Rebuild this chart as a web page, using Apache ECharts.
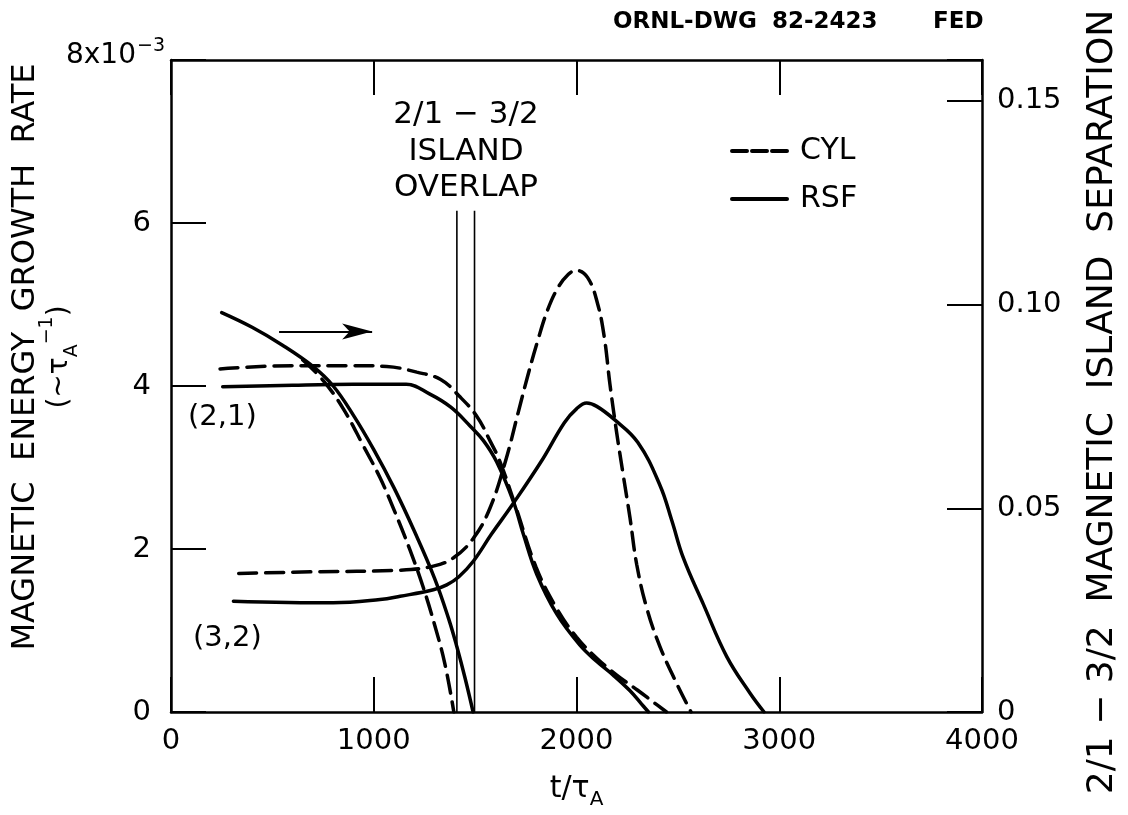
<!DOCTYPE html>
<html>
<head>
<meta charset="utf-8">
<title>ORNL-DWG 82-2423</title>
<script src="https://cdn.jsdelivr.net/npm/echarts/dist/echarts.min.js"></script>
<style>
html, body { margin: 0; padding: 0; background: #fff; }
#chart { width: 1128px; height: 815px; }
</style>
</head>
<body>
<div id="chart"></div>
<script>
var FONT = 'DejaVu Sans';

// 2/1 - 3/2 island separation (right axis)
var sepRsfT = [250, 400, 550, 700, 800, 900, 1000, 1100, 1200, 1300, 1370, 1410, 1450, 1490];
var sepRsf  = [0.098, 0.0944, 0.090, 0.0848, 0.080, 0.0728, 0.0644, 0.055, 0.0444, 0.0328, 0.0228, 0.016, 0.0084, 0];
var sepCylT = [650, 750, 850, 950, 1030, 1100, 1180, 1244, 1300, 1350, 1395];
var sepCyl  = [0.0864, 0.0814, 0.0744, 0.0652, 0.0576, 0.0496, 0.0396, 0.0306, 0.0214, 0.012, 0];

// (2,1) growth rate, x10^-3 (left axis)
var g21RsfT = [255, 600, 900, 1160, 1277, 1380, 1475, 1541, 1606, 1689, 1738, 1804, 1903, 2017, 2100, 2182, 2264, 2320, 2355];
var g21Rsf  = [3.99, 4.01, 4.02, 4.02, 3.90, 3.74, 3.51, 3.33, 3.07, 2.58, 2.18, 1.69, 1.20, 0.82, 0.62, 0.45, 0.26, 0.10, 0];
var g21CylT = [242, 600, 900, 1064, 1212, 1330, 1420, 1508, 1573, 1623, 1700, 1800, 1900, 2000, 2100, 2200, 2300, 2380, 2444];
var g21Cyl  = [4.21, 4.25, 4.25, 4.24, 4.17, 4.08, 3.88, 3.63, 3.33, 3.07, 2.52, 1.78, 1.28, 0.92, 0.66, 0.45, 0.27, 0.12, 0];

// (3,2) growth rate, x10^-3 (left axis)
var g32CylT = [334, 700, 1130, 1294, 1392, 1491, 1573, 1650, 1713, 1759, 1808, 1857, 1907, 1960, 1998, 2055, 2104, 2137, 2165, 2198, 2231, 2264, 2297, 2346, 2412, 2494, 2565];
var g32Cyl  = [1.70, 1.72, 1.74, 1.79, 1.89, 2.13, 2.50, 3.08, 3.68, 4.12, 4.55, 4.93, 5.20, 5.37, 5.42, 5.33, 5.01, 4.60, 4.02, 3.43, 2.90, 2.38, 1.81, 1.28, 0.80, 0.35, 0];
var g32RsfT = [308, 800, 1031, 1130, 1294, 1360, 1420, 1491, 1580, 1680, 1825, 1940, 2000, 2050, 2100, 2186, 2302, 2412, 2470, 2527, 2626, 2741, 2856, 2925];
var g32Rsf  = [1.36, 1.34, 1.38, 1.42, 1.50, 1.56, 1.66, 1.85, 2.18, 2.53, 3.07, 3.55, 3.72, 3.79, 3.75, 3.59, 3.31, 2.78, 2.35, 1.89, 1.32, 0.68, 0.23, 0];

// island overlap window and the arrow pointing to the right axis
var overlapT = [1410, 1497];
var overlapTop = 6.15;
var arrowT = [533, 992];
var arrowY = 4.67;

var xTicks = [0, 1000, 2000, 3000, 4000];

function pairs(xs, ys) {
  return xs.map(function (x, i) { return [x, ys[i]]; });
}

var dash = [18, 9];

function curve(name, xs, ys, dashed, yIdx) {
  return {
    name: name,
    type: 'line',
    yAxisIndex: yIdx,
    data: pairs(xs, ys),
    smooth: 0.4,
    symbol: 'none',
    silent: true,
    color: '#000',
    lineStyle: { color: '#000', width: 3.5, type: dashed ? dash : 'solid', cap: 'round' }
  };
}

function vline(t) {
  return {
    name: 'overlap',
    type: 'line',
    data: [[t, 0], [t, overlapTop]],
    symbol: 'none',
    silent: true,
    color: '#000',
    lineStyle: { color: '#000', width: 1.6 }
  };
}

var axisLineStyle = { onZero: false, lineStyle: { color: '#000', width: 2.5 } };
var tickStyle = { show: true, inside: true, length: 35, lineStyle: { color: '#000', width: 2 } };

var chart = echarts.init(document.getElementById('chart'));

var option = {
  animation: false,
  backgroundColor: '#fff',
  textStyle: { fontFamily: FONT, color: '#000' },
  grid: { left: 171, right: 146, top: 60, bottom: 96 },
  legend: {
    data: [
      { name: 'CYL', lineStyle: { type: [15, 5], width: 4, color: '#000' } },
      { name: 'RSF', lineStyle: { type: 'solid', width: 4, color: '#000' } }
    ],
    orient: 'vertical',
    left: 725,
    top: 131,
    itemWidth: 55,
    itemHeight: 30,
    itemGap: 18,
    selectedMode: false,
    itemStyle: { opacity: 0 },
    textStyle: { fontSize: 30, color: '#000', fontFamily: FONT, padding: [0, 0, 0, 8] }
  },
  xAxis: [{
    type: 'value',
    min: 0, max: 4000, interval: 1000,
    position: 'bottom',
    splitLine: { show: false },
    axisLine: axisLineStyle,
    axisTick: tickStyle,
    axisLabel: {
      fontSize: 29, color: '#000', margin: 15, fontFamily: FONT,
      formatter: function (v) { return xTicks.indexOf(v) >= 0 ? String(v) : ''; }
    },
    name: '{m|t/τ}{s|A}',
    nameLocation: 'middle',
    nameGap: 62,
    nameTextStyle: {
      rich: {
        m: { fontSize: 30, fontFamily: FONT, color: '#000', verticalAlign: 'top' },
        s: { fontSize: 20, fontFamily: FONT, color: '#000', verticalAlign: 'top', padding: [16, 0, 0, 0] }
      }
    }
  }, {
    type: 'value',
    min: 0, max: 4000, interval: 1000,
    position: 'top',
    splitLine: { show: false },
    axisLine: axisLineStyle,
    axisTick: tickStyle,
    axisLabel: { show: false }
  }],
  yAxis: [{
    type: 'value',
    min: 0, max: 8, interval: 2,
    position: 'left',
    splitLine: { show: false },
    axisLine: axisLineStyle,
    axisTick: tickStyle,
    axisLabel: {
      fontSize: 29, color: '#000', margin: 20, fontFamily: FONT,
      formatter: function (v) { return v === 8 ? '' : String(v); }
    }
  }, {
    type: 'value',
    min: 0, max: 0.16, interval: 0.05,
    position: 'right',
    splitLine: { show: false },
    axisLine: axisLineStyle,
    axisTick: tickStyle,
    axisLabel: {
      fontSize: 29, color: '#000', margin: 15, fontFamily: FONT,
      formatter: function (v) {
        if (v === 0) return '0';
        if (Math.abs(v - 0.16) < 1e-9) return '';
        return v.toFixed(2);
      }
    }
  }],
  graphic: [
    { type: 'text', x: 757, y: 22, style: { text: 'ORNL-DWG', font: 'bold 23px ' + FONT, fill: '#000', align: 'right', verticalAlign: 'middle' } },
    { type: 'text', x: 772, y: 22, style: { text: '82-2423', font: 'bold 23px ' + FONT, fill: '#000', align: 'left', verticalAlign: 'middle' } },
    { type: 'text', x: 933, y: 22, style: { text: 'FED', font: 'bold 23px ' + FONT, fill: '#000', align: 'left', verticalAlign: 'middle' } },
    { type: 'text', x: 136, y: 56, style: { text: '8x10', font: '28px ' + FONT, fill: '#000', align: 'right', verticalAlign: 'middle' } },
    { type: 'text', x: 137, y: 46, style: { text: '−3', font: '19px ' + FONT, fill: '#000', align: 'left', verticalAlign: 'middle' } },
    { type: 'text', x: 466, y: 115, style: { text: '2/1 − 3/2', font: '31px ' + FONT, fill: '#000', align: 'center', verticalAlign: 'middle' } },
    { type: 'text', x: 466, y: 152, style: { text: 'ISLAND', font: '31px ' + FONT, fill: '#000', align: 'center', verticalAlign: 'middle' } },
    { type: 'text', x: 466, y: 188, style: { text: 'OVERLAP', font: '31px ' + FONT, fill: '#000', align: 'center', verticalAlign: 'middle' } },
    { type: 'text', x: 188, y: 417, style: { text: '(2,1)', font: '29px ' + FONT, fill: '#000', align: 'left', verticalAlign: 'middle' } },
    { type: 'text', x: 193, y: 638, style: { text: '(3,2)', font: '29px ' + FONT, fill: '#000', align: 'left', verticalAlign: 'middle' } },
    { type: 'text', x: 26, y: 357, rotation: Math.PI / 2,
      style: { text: 'MAGNETIC  ENERGY  GROWTH  RATE', font: '32px ' + FONT, fill: '#000', align: 'center', verticalAlign: 'middle' } },
    { type: 'text', x: 60, y: 357, rotation: Math.PI / 2,
      style: {
        text: '{a|(~τ}{b|A}{c|−1}{a|)}', align: 'center', verticalAlign: 'middle',
        rich: {
          a: { font: '28px ' + FONT, fill: '#000', verticalAlign: 'middle', lineHeight: 44 },
          b: { font: '19px ' + FONT, fill: '#000', verticalAlign: 'bottom', lineHeight: 44 },
          c: { font: '19px ' + FONT, fill: '#000', verticalAlign: 'top', lineHeight: 44 }
        }
      } },
    { type: 'text', x: 1103, y: 402, rotation: Math.PI / 2,
      style: { text: '2/1 − 3/2  MAGNETIC  ISLAND  SEPARATION', font: '36px ' + FONT, fill: '#000', align: 'center', verticalAlign: 'middle' } }
  ],
  series: [
    curve('CYL', g21CylT, g21Cyl, true, 0),
    curve('RSF', g21RsfT, g21Rsf, false, 0),
    curve('CYL', g32CylT, g32Cyl, true, 0),
    curve('RSF', g32RsfT, g32Rsf, false, 0),
    curve('CYL', sepCylT, sepCyl, true, 1),
    curve('RSF', sepRsfT, sepRsf, false, 1),
    vline(overlapT[0]),
    vline(overlapT[1]),
    {
      name: 'arrow',
      type: 'line',
      data: [],
      silent: true,
      markLine: {
        silent: true,
        symbol: ['none', 'arrow'],
        symbolSize: [12, 30],
        label: { show: false },
        lineStyle: { color: '#000', width: 2, type: 'solid' },
        data: [[{ coord: [arrowT[0], arrowY] }, { coord: [arrowT[1], arrowY] }]]
      }
    }
  ]
};

chart.setOption(option);
</script>
</body>
</html>
